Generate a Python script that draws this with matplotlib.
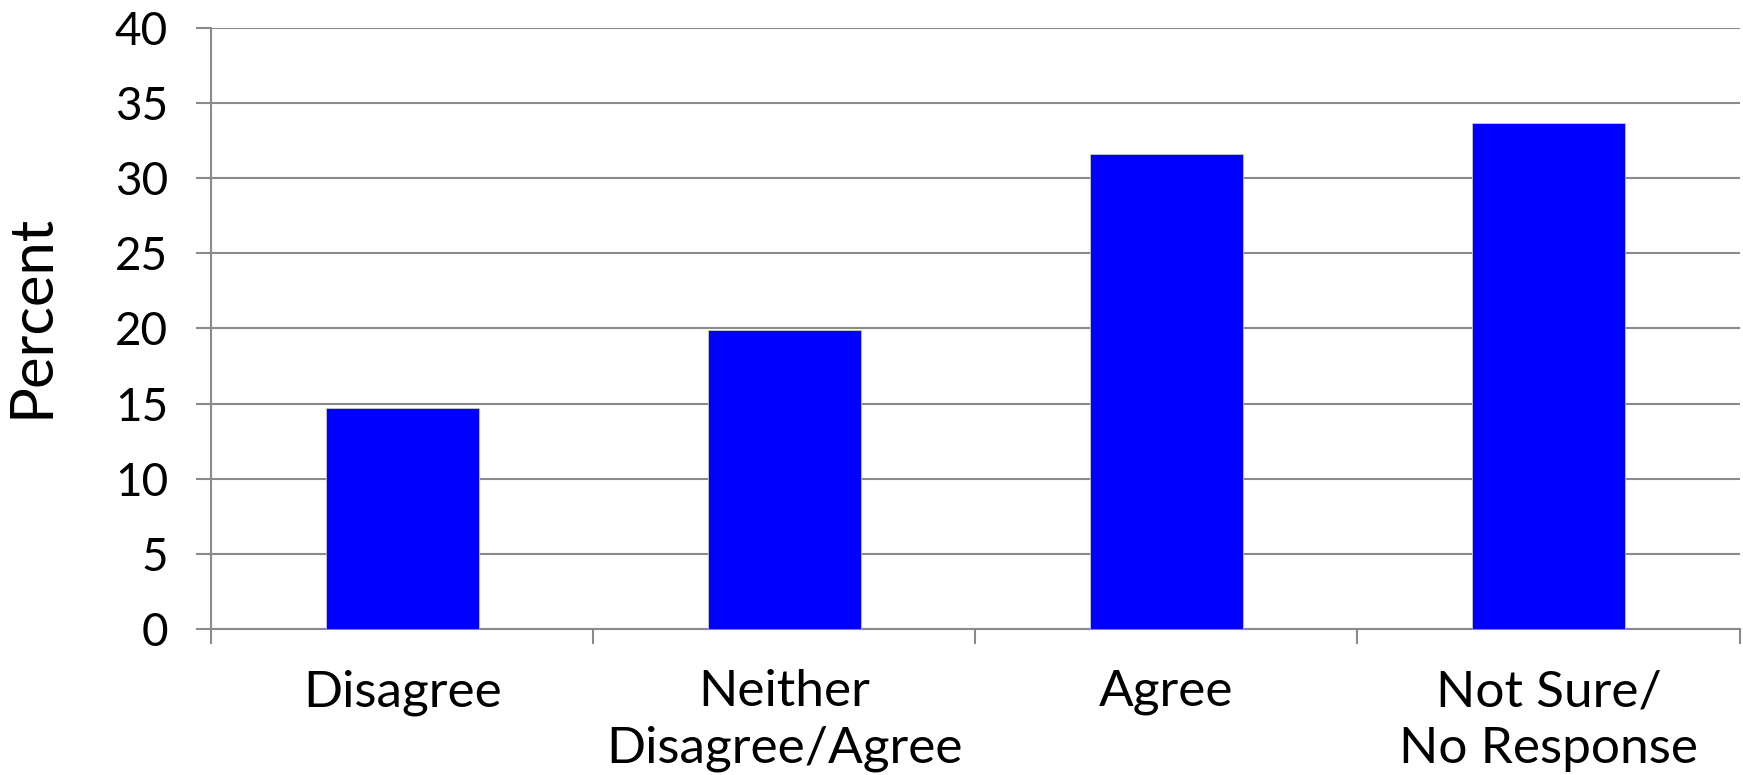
import matplotlib
matplotlib.use('Agg')
import matplotlib.pyplot as plt
import numpy as np

plt.rcParams['font.family'] = ['Lato', 'DejaVu Sans']

# Survey response data
categories = ['Disagree', 'Neither\nDisagree/Agree', 'Agree', 'Not Sure/\nNo Response']
percent = [14.7, 19.9, 31.6, 33.7]
y_ticks = [0, 5, 10, 15, 20, 25, 30, 35, 40]

grid_color = '#8a8a8a'

fig = plt.figure(figsize=(17.43, 7.75), dpi=100)
ax = fig.add_axes([0.1211, 0.1884, 0.8769, 0.7757])

x = np.arange(len(categories))
ax.bar(x, percent, width=0.4, color='#0000ff', edgecolor='#c8c8c8',
       linewidth=0.6, zorder=3)

ax.set_xlim(-0.5, len(categories) - 0.5)
ax.set_ylim(0, 40)
ax.set_yticks(y_ticks)
ax.yaxis.grid(True, color=grid_color, linewidth=1.5, zorder=0)
ax.set_axisbelow(True)

# category labels centred, tick marks at the boundaries
ax.set_xticks(x)
ax.set_xticklabels(categories, fontsize=37, linespacing=1.28)
ax.set_xticks(np.arange(-0.5, len(categories)), minor=True)
ax.tick_params(axis='x', which='major', length=0, pad=29)
ax.tick_params(axis='x', which='minor', length=11, width=1.5, color=grid_color)
ax.tick_params(axis='y', length=11, width=1.5, color=grid_color, labelsize=33, pad=20)

for side in ['top', 'right']:
    ax.spines[side].set_visible(False)
for side in ['left', 'bottom']:
    ax.spines[side].set_color(grid_color)
    ax.spines[side].set_linewidth(1.5)

ax.set_ylabel('Percent', fontsize=43)
ax.yaxis.set_label_coords(-0.1, 0.52)

fig.savefig('out.png', dpi=100)
